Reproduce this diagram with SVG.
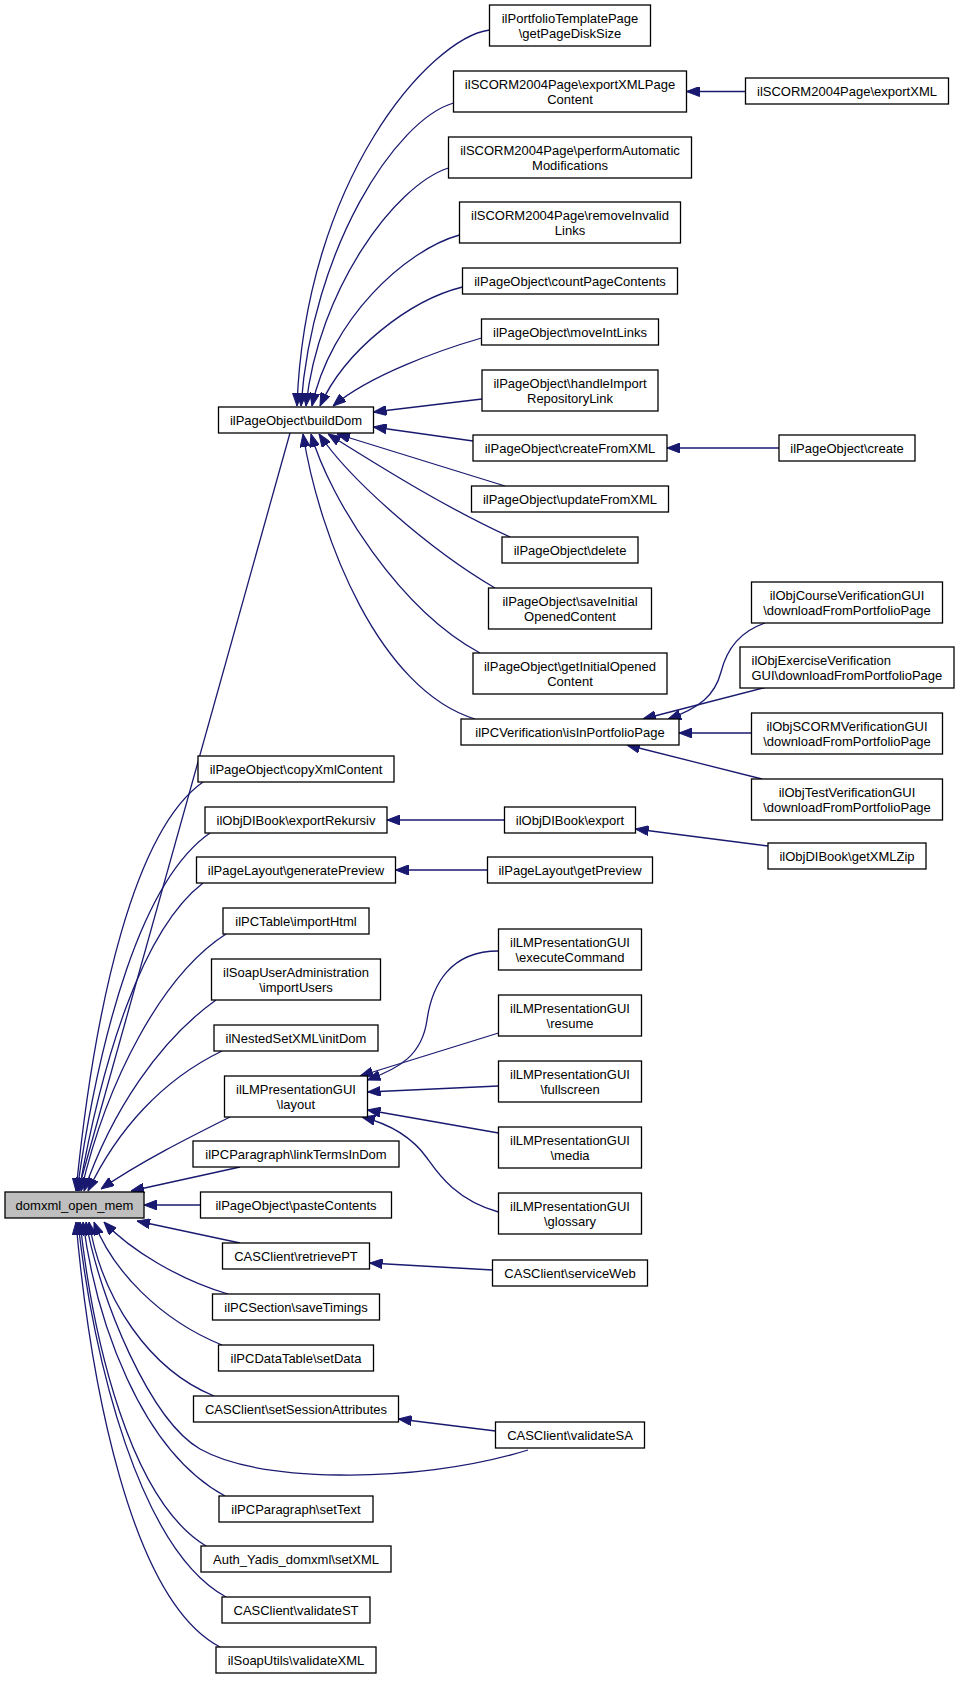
<svg xmlns="http://www.w3.org/2000/svg" width="959" height="1681" viewBox="0 0 959 1681">
<style>
.n rect{fill:#fff;stroke:#000;stroke-width:1.3}
.r rect{fill:#bfbfbf}
text{font-family:"Liberation Sans",Arial,Helvetica,sans-serif;font-size:13px;fill:#000;text-anchor:middle}
.e path{fill:none;stroke:#191970;stroke-width:1.3;marker-end:url(#ah)}
</style>
<defs>
<marker id="ah" viewBox="0 0 13 10" refX="13" refY="5" markerWidth="13" markerHeight="10" markerUnits="userSpaceOnUse" orient="auto">
<path d="M0,0 L13,5 L0,10 z" fill="#191970" stroke="#191970" stroke-width="1"/>
</marker>
</defs>
<rect width="959" height="1681" fill="#fff"/>
<g class="e" id="edges">
<path d="M290,433 L78,1191"/>
<path d="M203,782 C135,830 95,1000 76,1191"/>
<path d="M210,833 C142,880 100,1030 77,1191"/>
<path d="M203,883 C142,930 102,1060 79,1191"/>
<path d="M226,934 C162,975 107,1080 81,1191"/>
<path d="M216,1000 C160,1040 112,1110 84,1191"/>
<path d="M222,1051 C162,1080 117,1130 88,1191"/>
<path d="M230,1117 C190,1137 140,1162 101,1189"/>
<path d="M240,1167 L131,1191"/>
<path d="M200.5,1205 L144,1205"/>
<path d="M240,1243 L137,1221"/>
<path d="M228,1294 C180,1280 130,1250 104,1222"/>
<path d="M222,1345 C160,1320 112,1270 94,1222"/>
<path d="M214,1396 C150,1370 102,1300 89,1222"/>
<path d="M528,1450 C470,1468 400,1476 339,1475 C270,1474 225,1463 200,1449 C150,1420 100,1300 86,1222"/>
<path d="M225,1496 C140,1450 96,1320 83,1222"/>
<path d="M206,1546 C130,1500 93,1340 80,1222"/>
<path d="M226,1597 C140,1550 93,1360 78,1222"/>
<path d="M220,1647 C130,1600 90,1380 76,1222"/>
<path d="M489.5,30 C430,38 305,180 297,406"/>
<path d="M453.5,103 C395,120 312,250 301,406"/>
<path d="M448.5,168 C395,185 318,290 306,406"/>
<path d="M459.5,235 C405,250 330,320 312,406"/>
<path d="M462.5,287 C410,300 345,350 320,406"/>
<path d="M481.5,338 C440,350 370,375 333,406"/>
<path d="M482,399 L373.5,412"/>
<path d="M473,441 L373.5,427"/>
<path d="M505,486 L337,434"/>
<path d="M510,537 C440,505 370,460 328,434"/>
<path d="M495,588 C430,550 350,480 319,434"/>
<path d="M480,653 C400,610 330,500 311,434"/>
<path d="M475,719 C380,690 320,540 303,434"/>
<path d="M745.5,91.5 L686.5,91.5"/>
<path d="M779,448 L667,448"/>
<path d="M765,623 C738,632 726,652 721,672 C715,695 700,708 668,719"/>
<path d="M767,687 L643,719"/>
<path d="M751.5,733 L679,733"/>
<path d="M762,779 L627,745"/>
<path d="M504.5,820 L387,820"/>
<path d="M768,846 L635.5,829"/>
<path d="M487.5,870 L395.5,870"/>
<path d="M498.5,951 C450,951 432,985 427,1020 C422,1055 400,1068 367.5,1080"/>
<path d="M498.5,1033 L360,1076"/>
<path d="M498.5,1086 L367.5,1092"/>
<path d="M498.5,1133 L367.5,1110"/>
<path d="M498.5,1212 C455,1200 437,1172 427,1158 C412,1137 390,1124 362,1117"/>
<path d="M492.5,1270 L369.5,1263"/>
<path d="M495.5,1431 L398.5,1419"/>
</g>
<g class="n r" id="domxml_open_mem"><rect x="5" y="1192" width="139" height="26"/><text x="74.5" y="1209.5">domxml_open_mem</text></g>
<g class="n" id="buildDom"><rect x="218.5" y="407" width="155" height="26"/><text x="296" y="424.5">ilPageObject\buildDom</text></g>
<g class="n" id="copyXmlContent"><rect x="198" y="756" width="196" height="26"/><text x="296" y="773.5">ilPageObject\copyXmlContent</text></g>
<g class="n" id="exportRekursiv"><rect x="205" y="807" width="182" height="26"/><text x="296" y="824.5">ilObjDIBook\exportRekursiv</text></g>
<g class="n" id="generatePreview"><rect x="196.5" y="857" width="199" height="26"/><text x="296" y="874.5">ilPageLayout\generatePreview</text></g>
<g class="n" id="importHtml"><rect x="223" y="908" width="146" height="26"/><text x="296" y="925.5">ilPCTable\importHtml</text></g>
<g class="n" id="importUsers"><rect x="211.5" y="959" width="169" height="41"/><text x="296" y="976.5">ilSoapUserAdministration</text><text x="296" y="991.5">\importUsers</text></g>
<g class="n" id="initDom"><rect x="214" y="1025" width="164" height="26"/><text x="296" y="1042.5">ilNestedSetXML\initDom</text></g>
<g class="n" id="layout"><rect x="224.5" y="1076" width="143" height="41"/><text x="296" y="1093.5">ilLMPresentationGUI</text><text x="296" y="1108.5">\layout</text></g>
<g class="n" id="linkTermsInDom"><rect x="193" y="1141" width="206" height="26"/><text x="296" y="1158.5">ilPCParagraph\linkTermsInDom</text></g>
<g class="n" id="pasteContents"><rect x="200.5" y="1192" width="191" height="26"/><text x="296" y="1209.5">ilPageObject\pasteContents</text></g>
<g class="n" id="retrievePT"><rect x="222.5" y="1243" width="147" height="26"/><text x="296" y="1260.5">CASClient\retrievePT</text></g>
<g class="n" id="saveTimings"><rect x="212.5" y="1294" width="167" height="26"/><text x="296" y="1311.5">ilPCSection\saveTimings</text></g>
<g class="n" id="setData"><rect x="218.5" y="1345" width="155" height="26"/><text x="296" y="1362.5">ilPCDataTable\setData</text></g>
<g class="n" id="setSessionAttributes"><rect x="193.5" y="1396" width="205" height="26"/><text x="296" y="1413.5">CASClient\setSessionAttributes</text></g>
<g class="n" id="setText"><rect x="219" y="1496" width="154" height="26"/><text x="296" y="1513.5">ilPCParagraph\setText</text></g>
<g class="n" id="setXML"><rect x="201" y="1546" width="190" height="26"/><text x="296" y="1563.5">Auth_Yadis_domxml\setXML</text></g>
<g class="n" id="validateST"><rect x="222" y="1597" width="148" height="26"/><text x="296" y="1614.5">CASClient\validateST</text></g>
<g class="n" id="validateXML"><rect x="216" y="1647" width="160" height="26"/><text x="296" y="1664.5">ilSoapUtils\validateXML</text></g>
<g class="n" id="getPageDiskSize"><rect x="489.5" y="5" width="161" height="41"/><text x="570" y="22.5">ilPortfolioTemplatePage</text><text x="570" y="37.5">\getPageDiskSize</text></g>
<g class="n" id="exportXMLPageContent"><rect x="453.5" y="71" width="233" height="41"/><text x="570" y="88.5">ilSCORM2004Page\exportXMLPage</text><text x="570" y="103.5">Content</text></g>
<g class="n" id="performAutomaticModifications"><rect x="448.5" y="137" width="243" height="41"/><text x="570" y="154.5">ilSCORM2004Page\performAutomatic</text><text x="570" y="169.5">Modifications</text></g>
<g class="n" id="removeInvalidLinks"><rect x="459.5" y="202" width="221" height="41"/><text x="570" y="219.5">ilSCORM2004Page\removeInvalid</text><text x="570" y="234.5">Links</text></g>
<g class="n" id="countPageContents"><rect x="462.5" y="268" width="215" height="26"/><text x="570" y="285.5">ilPageObject\countPageContents</text></g>
<g class="n" id="moveIntLinks"><rect x="481.5" y="319" width="177" height="26"/><text x="570" y="336.5">ilPageObject\moveIntLinks</text></g>
<g class="n" id="handleImportRepositoryLink"><rect x="482" y="370" width="176" height="41"/><text x="570" y="387.5">ilPageObject\handleImport</text><text x="570" y="402.5">RepositoryLink</text></g>
<g class="n" id="createFromXML"><rect x="473" y="435" width="194" height="26"/><text x="570" y="452.5">ilPageObject\createFromXML</text></g>
<g class="n" id="updateFromXML"><rect x="471.5" y="486" width="197" height="26"/><text x="570" y="503.5">ilPageObject\updateFromXML</text></g>
<g class="n" id="delete"><rect x="502" y="537" width="136" height="26"/><text x="570" y="554.5">ilPageObject\delete</text></g>
<g class="n" id="saveInitialOpenedContent"><rect x="488.5" y="588" width="163" height="41"/><text x="570" y="605.5">ilPageObject\saveInitial</text><text x="570" y="620.5">OpenedContent</text></g>
<g class="n" id="getInitialOpenedContent"><rect x="473" y="653" width="194" height="41"/><text x="570" y="670.5">ilPageObject\getInitialOpened</text><text x="570" y="685.5">Content</text></g>
<g class="n" id="isInPortfolioPage"><rect x="461" y="719" width="218" height="26"/><text x="570" y="736.5">ilPCVerification\isInPortfolioPage</text></g>
<g class="n" id="export"><rect x="504.5" y="807" width="131" height="26"/><text x="570" y="824.5">ilObjDIBook\export</text></g>
<g class="n" id="getPreview"><rect x="487.5" y="857" width="165" height="26"/><text x="570" y="874.5">ilPageLayout\getPreview</text></g>
<g class="n" id="executeCommand"><rect x="498.5" y="929" width="143" height="41"/><text x="570" y="946.5">ilLMPresentationGUI</text><text x="570" y="961.5">\executeCommand</text></g>
<g class="n" id="resume"><rect x="498.5" y="995" width="143" height="41"/><text x="570" y="1012.5">ilLMPresentationGUI</text><text x="570" y="1027.5">\resume</text></g>
<g class="n" id="fullscreen"><rect x="498.5" y="1061" width="143" height="41"/><text x="570" y="1078.5">ilLMPresentationGUI</text><text x="570" y="1093.5">\fullscreen</text></g>
<g class="n" id="media"><rect x="498.5" y="1127" width="143" height="41"/><text x="570" y="1144.5">ilLMPresentationGUI</text><text x="570" y="1159.5">\media</text></g>
<g class="n" id="glossary"><rect x="498.5" y="1193" width="143" height="41"/><text x="570" y="1210.5">ilLMPresentationGUI</text><text x="570" y="1225.5">\glossary</text></g>
<g class="n" id="serviceWeb"><rect x="492.5" y="1260" width="155" height="26"/><text x="570" y="1277.5">CASClient\serviceWeb</text></g>
<g class="n" id="validateSA"><rect x="495.5" y="1422" width="149" height="26"/><text x="570" y="1439.5">CASClient\validateSA</text></g>
<g class="n" id="exportXML"><rect x="745.5" y="78" width="203" height="26"/><text x="847" y="95.5">ilSCORM2004Page\exportXML</text></g>
<g class="n" id="create"><rect x="779" y="435" width="136" height="26"/><text x="847" y="452.5">ilPageObject\create</text></g>
<g class="n" id="courseVerification"><rect x="751.5" y="582" width="191" height="41"/><text x="847" y="599.5">ilObjCourseVerificationGUI</text><text x="847" y="614.5">\downloadFromPortfolioPage</text></g>
<g class="n" id="exerciseVerification"><rect x="740" y="647" width="214" height="41"/><text x="751.5" y="664.5" style="text-anchor:start">ilObjExerciseVerification</text><text x="751.5" y="679.5" style="text-anchor:start">GUI\downloadFromPortfolioPage</text></g>
<g class="n" id="scormVerification"><rect x="751.5" y="713" width="191" height="41"/><text x="847" y="730.5">ilObjSCORMVerificationGUI</text><text x="847" y="745.5">\downloadFromPortfolioPage</text></g>
<g class="n" id="testVerification"><rect x="751.5" y="779" width="191" height="41"/><text x="847" y="796.5">ilObjTestVerificationGUI</text><text x="847" y="811.5">\downloadFromPortfolioPage</text></g>
<g class="n" id="getXMLZip"><rect x="768" y="843" width="158" height="26"/><text x="847" y="860.5">ilObjDIBook\getXMLZip</text></g>
</svg>
